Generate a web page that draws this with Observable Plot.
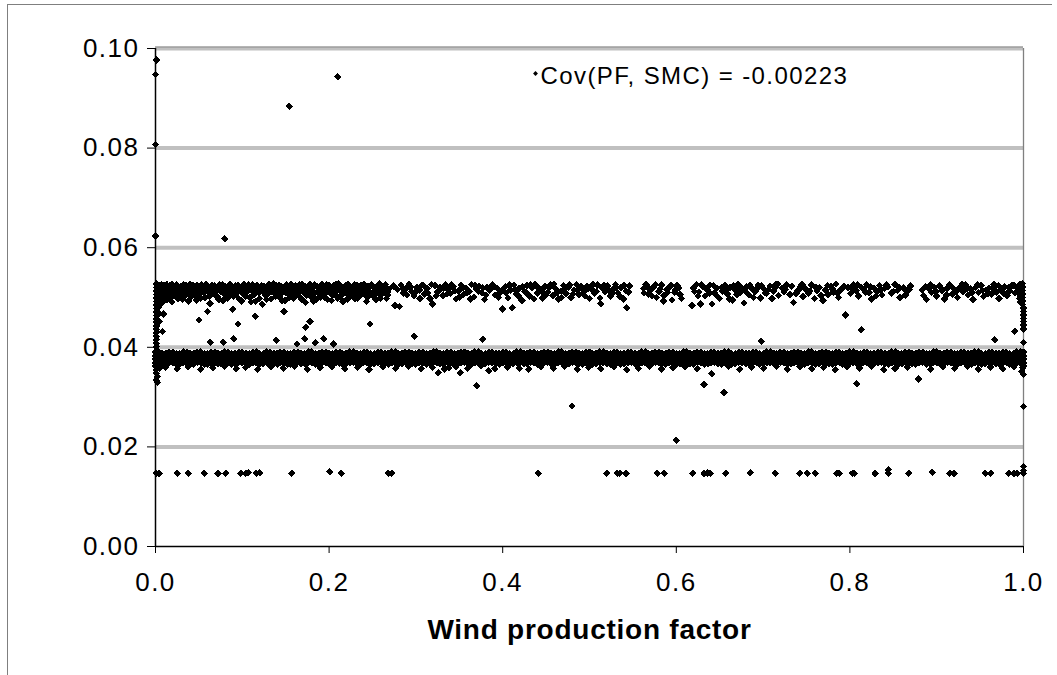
<!DOCTYPE html>
<html><head><meta charset="utf-8">
<script src="https://cdn.jsdelivr.net/npm/d3@7"></script>
<script src="https://cdn.jsdelivr.net/npm/@observablehq/plot@0.6"></script>
<style>
body{margin:0;background:#fff;}
#wrap{position:relative;width:1057px;height:675px;overflow:hidden;background:#fff;}
#wrap svg{position:absolute;left:0;top:0;}
.ft{position:absolute;background:#7f7f7f;}
g[aria-label="y-axis tick label"] text, g[aria-label="x-axis tick label"] text{letter-spacing:1.5px;}
</style></head><body>
<div id="wrap"><div class="ft" style="left:7px;top:4px;width:1045px;height:1px"></div><div class="ft" style="left:7px;top:4px;width:1px;height:671px"></div></div>
<script>
// Units: x in thousandths of the wind production factor, y in ten-thousandths.
const xTicks = [0, 0.2, 0.4, 0.6, 0.8, 1.0];
const yTicks = [0, 0.02, 0.04, 0.06, 0.08, 0.10];
const gridValues = [0.02, 0.04, 0.06, 0.08, 0.10];
const xTitle = "Wind production factor";
const annotation = "Cov(PF, SMC) = -0.00223";

// dense band around 0.037-0.039: [x, y, y, ...]
const bandColumns = [
[0,390,383,376,369,362],[4,391,384,377,370],[12,388,381,374,367],[20,390,383,376,369],[28,387,380,373,366],[36,390,383,376,368],[44,388,380,373,366],[52,391,383,376,369],[60,387,380,374,366],[68,390,384,376,369],[76,387,380,373,367],[84,390,383,377,370],[92,388,381,373,366],[100,390,383,376,369],[108,387,380,373,366],[116,391,384,376,369],[124,387,380,374,367],[132,390,383,376,369],[140,388,380,373,366],[148,390,384,377,369],[156,387,381,373,366],[164,390,383,376,370],[172,387,380,373,367],[180,391,383,376,369],[188,388,380,374,366],[196,390,384,377,369],[204,387,380,373,366],[212,390,383,376,368],[220,388,381,373,367],[228,391,383,377,370],[236,387,380,373,366],[244,390,384,376,369],[252,387,380,374,367],[260,390,383,376,369],[268,388,381,373,366],[276,391,383,377,369],[284,387,380,373,367],[292,390,384,376,370],[300,387,380,373,366],[308,390,383,377,369],[316,388,381,374,367],[324,391,384,376,369],[332,387,380,373,366],[340,390,383,376,369],[348,388,380,374,367],[356,390,384,377,370],[364,387,381,373,366],[372,391,383,376,369],[380,387,380,373,367],[388,390,383,377,369],[396,388,381,374,366],[404,390,384,376,370],[412,387,380,373,367],[420,391,383,376,369],[428,387,381,374,366],[436,390,383,377,369],[444,388,380,373,367],[452,390,384,376,370],[460,387,380,374,366],[468,391,383,376,369],[476,388,381,373,367],[484,390,383,377,369],[492,387,380,373,366],[500,390,384,376,370],[508,388,381,374,367],[516,391,383,376,369],[524,387,380,373,366],[532,390,383,377,369],[540,388,381,374,367],[548,390,384,376,370],[556,387,380,373,366],[564,391,383,376,369],[572,387,381,374,367],[580,390,383,377,369],[588,388,380,373,366],[596,390,384,376,370],[604,387,380,374,367],[612,391,383,376,369],[620,388,381,373,366],[628,390,383,377,369],[636,387,380,373,367],[644,390,384,376,370],[652,388,381,374,366],[660,391,383,376,369],[668,387,380,373,367],[676,390,383,377,369],[684,388,381,374,366],[692,390,384,376,370],[700,387,380,373,367],[708,391,383,376,369],[716,387,381,374,366],[724,390,383,377,369],[732,388,380,373,367],[740,390,384,376,370],[748,387,380,374,366],[756,391,383,376,369],[764,388,381,373,367],[772,390,383,377,369],[780,387,380,373,366],[788,390,384,376,370],[796,388,381,374,367],[804,391,383,376,369],[812,387,380,373,366],[820,390,383,377,369],[828,388,381,374,367],[836,390,384,376,370],[844,387,380,373,366],[852,391,383,376,369],[860,387,381,374,367],[868,390,383,377,369],[876,388,380,373,366],[884,390,384,376,370],[892,387,380,374,367],[900,391,383,376,369],[908,388,381,373,366],[916,390,383,377,369],[924,387,380,373,367],[932,390,384,376,370],[940,388,381,374,366],[948,391,383,376,369],[956,387,380,373,367],[964,390,383,377,369],[972,388,381,374,366],[980,390,384,376,370],[988,387,380,373,367],[996,391,383,376,369],[999,387,380,373,366],[1000,390,383,376,369,362]
];

// more columns of the dense band
const bandColumns2 = [
[8,388,381,374,367],[16,390,383,376,369],[24,387,380,373,366],[32,391,384,377,369],[40,388,381,374,367],[48,390,383,376,370],[56,387,380,374,366],[64,390,384,377,369],[72,388,381,373,367],[80,391,383,376,369],[88,387,380,374,366],[96,390,383,377,370],[104,388,381,374,367],[112,390,384,376,369],[120,387,380,373,366],[128,391,383,377,369],[136,388,381,374,367],[144,390,383,376,370],[152,387,380,374,366],[160,390,384,377,369],[168,388,381,373,367],[176,391,383,376,369],[184,387,380,374,366],[192,390,383,377,370],[200,388,381,374,367],[208,390,384,376,369],[216,387,380,373,366],[224,391,383,377,369],[232,388,381,374,367],[240,390,383,376,370],[248,387,380,374,366],[256,390,384,377,369],[264,388,381,373,367],[272,391,383,376,369],[280,387,380,374,366],[288,390,383,377,370],[296,388,381,374,367],[304,390,384,376,369],[312,387,380,373,366],[320,391,383,377,369],[328,388,381,374,367],[336,390,383,376,370],[344,387,380,374,366],[352,390,384,377,369],[360,388,381,373,367],[368,391,383,376,369],[376,387,380,374,366],[384,390,383,377,370],[392,388,381,374,367],[400,390,384,376,369],[408,387,380,373,366],[416,391,383,377,369],[424,388,381,374,367],[432,390,383,376,370],[440,387,380,374,366],[448,390,384,377,369],[456,388,381,373,367],[464,391,383,376,369],[472,387,380,374,366],[480,390,383,377,370],[488,388,381,374,367],[496,390,384,376,369],[504,387,380,373,366],[512,391,383,377,369],[520,388,381,374,367],[528,390,383,376,370],[536,387,380,374,366],[544,390,384,377,369],[552,388,381,373,367],[560,391,383,376,369],[568,387,380,374,366],[576,390,383,377,370],[584,388,381,374,367],[592,390,384,376,369],[600,387,380,373,366],[608,391,383,377,369],[616,388,381,374,367],[624,390,383,376,370],[632,387,380,374,366],[640,390,384,377,369],[648,388,381,373,367],[656,391,383,376,369],[664,387,380,374,366],[672,390,383,377,370],[680,388,381,374,367],[688,390,384,376,369],[696,387,380,373,366],[704,391,383,377,369],[712,388,381,374,367],[720,390,383,376,370],[728,387,380,374,366],[736,390,384,377,369],[744,388,381,373,367],[752,391,383,376,369],[760,387,380,374,366],[768,390,383,377,370],[776,388,381,374,367],[784,390,384,376,369],[792,387,380,373,366],[800,391,383,377,369],[808,388,381,374,367],[816,390,383,376,370],[824,387,380,374,366],[832,390,384,377,369],[840,388,381,373,367],[848,391,383,376,369],[856,387,380,374,366],[864,390,383,377,370],[872,388,381,374,367],[880,390,384,376,369],[888,387,380,373,366],[896,391,383,377,369],[904,388,381,374,367],[912,390,383,376,370],[920,387,380,374,366],[928,390,384,377,369],[936,388,381,373,367],[944,391,383,376,369],[952,387,380,374,366],[960,390,383,377,370],[968,388,381,374,367],[976,390,384,376,369],[984,387,380,373,366],[992,391,383,377,369]
];

// upper band around 0.048-0.053
const upperPoints = [
[1,527],[1,520],[1,513],[1,506],[1,499],[1,492],[1,485],[1,478],[1,471],[1,464],[1,457],[1,450],[1,443],[1,436],[1,429],[1,422],[1,415],[1,408],[1,401],
[4,525],[4,518],[4,511],[4,504],[4,497],[4,489],[4,481],[4,468],[4,452],
[7,526],[7,519],[7,512],[7,505],[7,497],[7,488],[10,524],[10,517],[10,509],[10,501],[10,493],
[13,526],[13,519],[13,512],[13,504],[13,496],[16,524],[16,516],[16,508],[16,499],[19,527],[19,520],[19,511],[19,502],[19,491],
[23,523],[25,514],[27,505],[29,521],[31,497],[33,517],[35,525],[37,509],[39,519],[41,502],[43,524],[45,512],[47,495],[49,520],[51,507],[53,526],[55,516],[57,500],[59,522],[61,511],[63,488],[65,525],[67,515],[69,504],[71,521],[73,496],[75,513],[77,526],[79,507],[81,518],[83,499],[85,524],[87,510],[89,476],[91,520],[93,505],[95,525],[97,514],[99,493],[101,522],[103,508],[105,517],[107,526],[109,500],[111,513],[113,521],[115,492],[117,525],[119,509],[121,517],[123,486],[125,523],[127,504],[129,514],[131,526],[133,497],[135,519],[137,508],[139,524],[141,512],[143,501],[145,521],[147,515],[149,494],[151,525],[153,506],[155,518],[157,511],[159,499],[161,524],[163,514],[165,504],[167,520],[169,527],[171,509],[173,490],[175,517],[177,523],[179,502],[181,513],[183,526],[185,496],[187,519],[189,507],[191,522],[193,515],[195,500],[197,525],[199,511],[201,518],[203,494],[205,523],[207,506],[209,516],[211,527],[213,503],[215,519],[217,510],[219,524],[221,497],[223,514],[225,521],[227,506],[229,526],[231,512],[233,499],[235,519],[237,524],[239,508],[241,515],[243,492],[245,522],[247,511],[249,526],[251,503],[253,517],[255,523],[257,508],[259,498],[261,520],[263,513],[265,526],[267,505],[269,517],
[274,523],[276,484],[279,516],[281,482],[283,525],[286,509],[289,519],[292,527],[295,512],[298,503],[301,521],[304,515],[307,525],[310,507],[313,518],[316,498],[319,487],[322,524],[325,511],[328,520],[331,504],[334,526],[337,516],[340,508],[343,522],[346,497],[349,513],[352,525],[355,506],[358,519],[361,512],[364,526],[367,501],[370,517],[373,523],[376,509],[379,496],[382,520],[385,514],[388,526],[391,505],[394,518],[397,510],[400,477],[403,522],[406,499],[409,515],[411,479],[413,525],[416,507],[419,518],[422,494],[425,512],[428,524],[431,503],[434,519],[437,527],[440,509],[443,516],[446,499],[449,522],[452,511],[455,525],[458,504],[461,518],[464,497],[467,513],[470,524],[473,508],[476,520],[479,500],[482,515],[485,526],[488,506],[491,519],[494,512],[497,523],[500,498],[503,516],[506,508],[509,525],
[513,487],[515,519],[518,511],[521,524],[524,503],[527,516],[530,526],[533,509],[536,520],[539,497],[542,513],[543,479],[546,523],[562,518],[565,526],[568,507],[571,515],[574,522],[577,500],[580,512],[583,525],[586,504],[589,517],[592,521],[595,495],[598,510],[601,524],[604,506],[618,484],[620,519],[623,526],[626,511],[628,487],[630,522],[633,503],[636,516],[639,525],[641,487],[644,509],[647,519],[650,498],[653,513],[656,524],[659,507],[662,520],[665,495],[668,515],[671,526],[674,510],[678,489],[681,521],[684,505],[688,517],[691,512],[694,525],[697,499],[700,519],[704,508],[708,523],[712,513],[715,526],[718,504],
[722,519],[724,511],[727,525],[731,506],[735,490],[740,514],[743,521],[746,502],[749,517],[752,509],[756,525],[759,498],[762,513],[765,520],[769,494],[772,515],[775,506],[778,523],[781,511],[784,527],[787,500],[790,516],[798,520],[801,509],[804,525],[807,514],[810,503],[813,521],[816,517],[819,526],[822,510],[825,497],[828,519],[831,512],[834,524],[837,505],[840,518],[844,521],[848,509],[852,526],[855,514],[858,500],[862,519],[866,511],[870,523],[883,515],[885,504],[888,496],[891,517],[894,510],[897,521],[900,503],[903,524],[906,513],[909,497],[912,518],[915,526],[918,507],[921,515],[924,500],[927,520],[930,512],[933,525],[936,505],[939,517],[942,496],[945,521],[948,510],[951,524],[954,502],[957,515],[960,519],[963,507],[966,526],[969,511],[972,498],[975,516],[978,521],[981,504],[984,513],[987,525],[990,509],[993,518],
[996,526],[996,519],[996,512],[996,505],[996,498],[996,491],[999,528],[999,521],[999,514],[999,507],[999,500],[999,493],[999,486],[1000,479],[1000,472],[1000,465],[1000,458],[1000,452],[1000,445],[1000,437],[1000,410]
];

// more points of the upper band
const upperPoints2 = [
[22,509],[24,526],[26,498],[28,517],[30,510],[32,525],[34,503],[36,515],[38,493],[40,526],[42,511],[44,518],[46,505],[48,524],[50,514],[52,499],[54,521],[56,509],[58,527],[60,516],[62,503],[64,519],[66,508],[68,524],[70,512],[72,501],[74,526],[76,519],[78,494],[80,522],[82,511],[84,505],[86,527],[88,518],[90,502],[92,523],[94,512],[96,497],[98,520],[100,509],[102,526],[104,503],[106,513],[108,521],[110,491],[112,525],[114,507],[116,518],[118,514],[120,498],[122,524],[124,511],[126,519],[128,496],[130,508],[132,522],[134,512],[136,527],[138,502],[140,517],[142,525],[144,506],[146,493],[148,519],[150,511],[152,522],[154,499],[156,527],[158,516],[160,505],[162,520],[164,510],[166,526],[168,497],[170,515],[172,522],[174,504],[176,512],[178,526],[180,518],[182,493],[184,509],[186,523],[188,514],[190,501],[192,527],[194,508],[196,517],[198,496],[200,524],[202,512],[204,505],[206,519],[208,527],[210,499],[212,514],[214,522],[216,492],[218,517],[220,509],[222,526],[224,503],[226,515],[228,520],[230,498],[232,524],[234,510],[236,505],[238,517],[240,526],[242,511],[244,501],[246,519],[248,507],[250,523],[252,513],[254,496],[256,518],[258,527],[260,505],[262,514],[264,521],[266,498],[268,511],
[285,517],[290,505],[294,521],[300,512],[305,498],[309,524],[314,509],[318,526],[323,503],[327,515],[332,519],[336,507],[341,525],[345,513],[350,501],[354,520],[359,510],[363,497],[368,524],[372,512],[377,520],[381,505],[386,517],[390,522],[395,500],[399,514],[404,509],[408,525],[414,516],[418,503],[423,522],[427,510],[432,526],[436,497],[441,519],[445,512],[450,505],[454,520],[459,527],[463,511],[468,500],[472,518],[477,525],[481,507],[486,514],[490,523],[495,503],[499,519],[504,526],[508,512],[512,499],[517,525],[522,515],[526,508],[531,520],[535,502],[540,524],[545,511],[563,509],[567,521],[572,503],[576,526],[581,517],[585,493],[590,510],[594,524],[599,515],[603,519],[606,498],[621,512],[625,503],[629,526],[634,518],[638,509],[643,524],[647,503],[652,520],[657,513],[661,497],[666,524],[670,506],[675,519],[680,512],[685,525],[689,500],[693,518],[698,523],[702,509],[706,516],[710,498],[714,520],[717,527],
[726,516],[733,523],[738,508],[745,526],[754,513],[761,520],[767,504],[774,524],[780,517],[786,509],[793,522],[803,517],[809,526],[818,511],[824,521],[830,503],[836,516],[842,525],[850,512],[857,520],[864,505],[868,516],[887,522],[893,525],[899,512],[905,519],[911,505],[917,522],[923,513],[929,527],[935,518],[941,510],[947,525],[953,514],[959,508],[965,520],[971,524],[977,509],[983,520],[989,524],[994,512],[997,502],[998,495]
];

// scattered points between the two bands
const midPoints = [
[8,432],[9,467],[50,455],[60,472],[63,410],[78,410],[90,417],[95,447],[115,462],[139,414],[148,472],[163,407],[172,417],[173,440],[178,452],[184,409],[194,417],[205,407],[247,447],[298,422],[377,416],[698,412],[795,465],[813,435],[967,415],[990,432]
];

// scattered points just below the dense band
const lowerPoints = [
[1,355],[1,348],[2,341],[1,334],[2,330],[5,358],[12,360],[25,357],[38,361],[52,356],[66,359],[80,362],[93,357],[104,360],[118,356],[133,361],[147,358],[160,362],[175,356],[190,359],[203,361],[218,357],[233,360],[246,355],[262,361],[277,358],[291,362],[306,357],[319,360],[326,349],[333,356],[338,359],[346,361],[351,349],[360,358],[375,362],[384,353],[391,357],[405,360],[419,358],[430,356],[444,361],[458,358],[471,362],[486,356],[499,360],[513,357],[528,361],[543,355],[556,358],[569,362],[583,356],[596,359],[610,361],[624,357],[641,347],[660,362],[673,356],[687,360],[701,358],[715,362],[728,356],[742,361],[756,357],[770,360],[783,355],[797,361],[811,358],[825,362],[839,355],[852,357],[866,360],[893,356],[907,361],[921,358],[935,362],[948,356],[962,360],[976,357],[989,361],[998,352],[999,359],[1000,345]
];

// points near 0.015
const floorPoints = [
[1,147],[4,147],[25,147],[38,147],[56,147],[72,147],[81,147],[98,147],[104,147],[107,148],[116,147],[120,148],[157,147],[201,150],[214,147],[268,147],[272,147],[441,147],[520,147],[532,147],[535,147],[542,147],[578,147],[586,147],[619,147],[632,147],[636,148],[639,147],[657,147],[685,148],[714,147],[742,147],[751,147],[760,147],[785,147],[788,147],[803,147],[805,147],[829,147],[844,147],[844,154],[868,147],[895,149],[915,147],[920,147],[956,147],[962,147],[983,147],[989,147],[993,147],[1000,147],[1000,153],[1000,161]
];

// isolated outliers
const outliers = [
[1,977],[0,948],[0,807],[0,624],[80,618],[154,884],[210,943],[370,323],[480,282],[600,213],[632,325],[655,309],[808,327],[879,336],[1000,281]
];

const pts = [];
for (const [x, ...ys] of [...bandColumns, ...bandColumns2]) for (const y of ys) pts.push({x: x / 1000, y: y / 10000});
for (const [x, y] of [...upperPoints, ...upperPoints2, ...midPoints, ...lowerPoints, ...floorPoints, ...outliers]) pts.push({x: x / 1000, y: y / 10000});

const font = "'Liberation Sans', Arial, Helvetica, sans-serif";
const chart = Plot.plot({
  width: 1057, height: 675,
  marginLeft: 155, marginRight: 34, marginTop: 48, marginBottom: 129,
  style: {fontFamily: font, background: "transparent", color: "#000", overflow: "visible"},
  x: {domain: [0, 1]},
  y: {domain: [0, 0.1]},
  marks: [
    Plot.ruleY(gridValues, {stroke: "#c0c0c0", strokeWidth: 4}),
    Plot.ruleY([0.1], {stroke: "#8a8a8a", strokeWidth: 1, dy: -1.5}),
    Plot.ruleX([1], {stroke: "#808080", strokeWidth: 1.3}),
    Plot.axisY(yTicks, {tickFormat: d3.format(".2f"), tickSize: 8, tickPadding: 8, fontSize: 26, label: null, stroke: "#000"}),
    Plot.axisX(xTicks, {tickFormat: d3.format(".1f"), tickSize: 7, tickPadding: 19, fontSize: 26, label: null, stroke: "#000"}),
    Plot.ruleX([0], {stroke: "#000", strokeWidth: 1.5}),
    Plot.ruleY([0], {stroke: "#000", strokeWidth: 1.5}),
    Plot.dot(pts, {x: "x", y: "y", symbol: "diamond2", r: 3.4, fill: "#000", stroke: "none", shapeRendering: "crispEdges"}),
    Plot.dot([annotation], {frameAnchor: "top-left", dx: 380, dy: 25, symbol: "diamond2", r: 2.2, fill: "#000", stroke: "none"}),
    Plot.text([annotation], {text: d => d, frameAnchor: "top-left", lineAnchor: "middle", dx: 385, dy: 28, textAnchor: "start", fontSize: 24, fill: "#000"}),
    Plot.text([xTitle], {text: d => d, frameAnchor: "bottom", lineAnchor: "middle", dy: 84, fontSize: 28, fontWeight: "bold", fill: "#000"})
  ]
});
// letter spacing to match the wide text of the original
for (const t of chart.querySelectorAll("text")) {
  if (t.textContent === annotation) t.style.letterSpacing = "1.4px";
  else if (t.textContent === xTitle) t.style.letterSpacing = "0.75px";
}
document.getElementById("wrap").prepend(chart);
</script>
</body></html>
